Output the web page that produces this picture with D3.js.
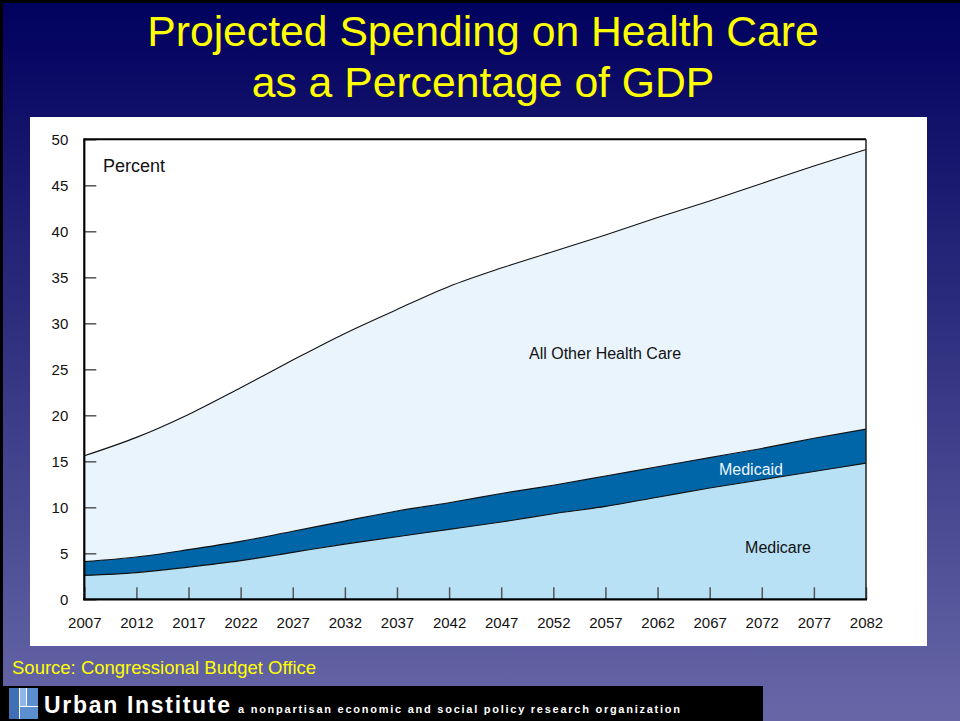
<!DOCTYPE html>
<html><head><meta charset="utf-8">
<script src="https://cdn.jsdelivr.net/npm/d3@7"></script>
<style>body{margin:0;padding:0;overflow:hidden;background:#000}svg{display:block}text{font-family:"Liberation Sans",Arial,sans-serif}</style>
</head><body><svg id="c" width="960" height="721"></svg>
<script>
const years = [2007,2012,2017,2022,2027,2032,2037,2042,2047,2052,2057,2062,2067,2072,2077,2082];
const medicare = [2.6,2.9,3.5,4.2,5.1,6.0,6.8,7.6,8.4,9.3,10.1,11.1,12.1,13.0,13.9,14.8];
const medicaid = [1.5,1.7,1.9,2.1,2.3,2.5,2.8,2.9,3.1,3.1,3.3,3.3,3.3,3.4,3.6,3.7];
const otherHealth = [11.5,13.0,14.7,16.7,18.6,20.4,21.9,23.5,24.5,25.4,26.2,27.1,27.9,28.8,29.6,30.4];
const yTicks = [0,5,10,15,20,25,30,35,40,45,50];
const xTicks = years;
const titleLines = ["Projected Spending on Health Care","as a Percentage of GDP"];
const seriesKeys = ["medicare","medicaid","other"];
const seriesLabels = {medicare:"Medicare", medicaid:"Medicaid", other:"All Other Health Care"};

const svg = d3.select("#c");
const defs = svg.append("defs");
const g = defs.append("linearGradient").attr("id","bg").attr("x1",0).attr("y1",0).attr("x2",0).attr("y2",1);
g.append("stop").attr("offset","0%").attr("stop-color","#00005e");
g.append("stop").attr("offset","100%").attr("stop-color","#6767a8");
svg.append("rect").attr("width",960).attr("height",721).attr("fill","url(#bg)");
svg.append("rect").attr("x",0).attr("y",0).attr("width",960).attr("height",3).attr("fill","#000");
svg.append("rect").attr("x",0).attr("y",0).attr("width",3).attr("height",721).attr("fill","#000");

svg.selectAll("text.title").data(titleLines).join("text").attr("class","title")
  .attr("x",483).attr("y",(d,i)=>46+i*51).attr("text-anchor","middle")
  .attr("fill","#ffff00").attr("font-size",42.7).text(d=>d);

svg.append("rect").attr("x",30).attr("y",117).attr("width",897).attr("height",529).attr("fill","#fff");

const x = d3.scaleLinear().domain([2007,2082]).range([84.3,866]);
const y = d3.scaleLinear().domain([0,50]).range([599.3,139.3]);

const data = years.map((yr,i)=>({year:yr, medicare:medicare[i], medicaid:medicaid[i], other:otherHealth[i]}));
const stack = d3.stack().keys(seriesKeys)(data);
const colors = {medicare:"#b8e1f6", medicaid:"#0066a8", other:"#eaf4fd"};
const area = d3.area().curve(d3.curveMonotoneX).x(d=>x(d.data.year)).y0(d=>y(d[0])).y1(d=>y(d[1]));
const line = d3.line().curve(d3.curveMonotoneX).x(d=>x(d.data.year)).y(d=>y(d[1]));

svg.append("g").selectAll("path").data(stack).join("path")
  .attr("d",area).attr("fill",d=>colors[d.key]);
svg.append("g").selectAll("path").data(stack).join("path")
  .attr("d",line).attr("fill","none").attr("stroke","#111").attr("stroke-width",1.1);

const yAxis = d3.axisLeft(y).tickValues(yTicks).tickSize(-12).tickPadding(16).tickFormat(d3.format("d"));
const ya = svg.append("g").attr("transform","translate(84.3,0)").call(yAxis);
const xAxis = d3.axisBottom(x).tickValues(xTicks).tickSize(-12).tickPadding(18).tickFormat(d3.format("d"));
const xa = svg.append("g").attr("transform","translate(0,599.3)").call(xAxis);
[ya,xa].forEach(a=>{
  a.select(".domain").remove();
  a.selectAll(".tick line").attr("stroke","#555").attr("stroke-width",1.5);
  a.selectAll(".tick text").attr("font-size",15).attr("fill","#111").attr("font-family","Liberation Sans, Arial, sans-serif");
});
svg.append("line").attr("x1",84.3).attr("x2",866).attr("y1",139.3).attr("y2",139.3).attr("stroke","#000").attr("stroke-width",2);
svg.append("line").attr("x1",866).attr("x2",866).attr("y1",139.3).attr("y2",599.3).attr("stroke","#222").attr("stroke-width",1.5);
svg.append("line").attr("x1",84.3).attr("x2",84.3).attr("y1",138.3).attr("y2",600.3).attr("stroke","#000").attr("stroke-width",2.2);
svg.append("line").attr("x1",83.3).attr("x2",867).attr("y1",599.3).attr("y2",599.3).attr("stroke","#000").attr("stroke-width",2.2);

svg.append("text").attr("x",103).attr("y",171.5).attr("font-size",18).attr("fill","#111").text("Percent");

svg.append("text").attr("x",605).attr("y",359).attr("text-anchor","middle").attr("font-size",16).attr("fill","#111").text(seriesLabels.other);
svg.append("text").attr("x",751).attr("y",475).attr("text-anchor","middle").attr("font-size",16).attr("fill","#eef4ff").text(seriesLabels.medicaid);
svg.append("text").attr("x",778).attr("y",553).attr("text-anchor","middle").attr("font-size",16).attr("fill","#111").text(seriesLabels.medicare);

svg.append("text").attr("x",12).attr("y",674).attr("font-size",18.5).attr("fill","#ffff00").text("Source: Congressional Budget Office");

svg.append("rect").attr("x",0).attr("y",686).attr("width",763).attr("height",35).attr("fill","#000");
const logo = svg.append("g");
logo.append("rect").attr("x",9).attr("y",688).attr("width",29).attr("height",31).attr("fill","#5b8fd0");
logo.append("rect").attr("x",9).attr("y",688).attr("width",10).attr("height",31).attr("fill","#3f6fb5");
logo.append("rect").attr("x",20).attr("y",688).attr("width",6).attr("height",18).attr("fill","#8fb6e6");
logo.append("line").attr("x1",19.5).attr("x2",19.5).attr("y1",688).attr("y2",719).attr("stroke","#fff").attr("stroke-width",1);
logo.append("line").attr("x1",26.5).attr("x2",26.5).attr("y1",688).attr("y2",706).attr("stroke","#fff").attr("stroke-width",1);
logo.append("line").attr("x1",19.5).attr("x2",38).attr("y1",706.5).attr("y2",706.5).attr("stroke","#fff").attr("stroke-width",1);
svg.append("text").attr("x",44).attr("y",713).attr("font-size",23).attr("font-weight","bold").attr("fill","#fff")
  .attr("font-family","DejaVu Sans Condensed, DejaVu Sans, sans-serif").attr("textLength",186).text("Urban Institute");
svg.append("text").attr("x",238).attr("y",713).attr("font-size",11).attr("font-weight","bold").attr("fill","#fff")
  .attr("font-family","DejaVu Sans, sans-serif").attr("textLength",442).text("a nonpartisan economic and social policy research organization");
</script></body></html>
